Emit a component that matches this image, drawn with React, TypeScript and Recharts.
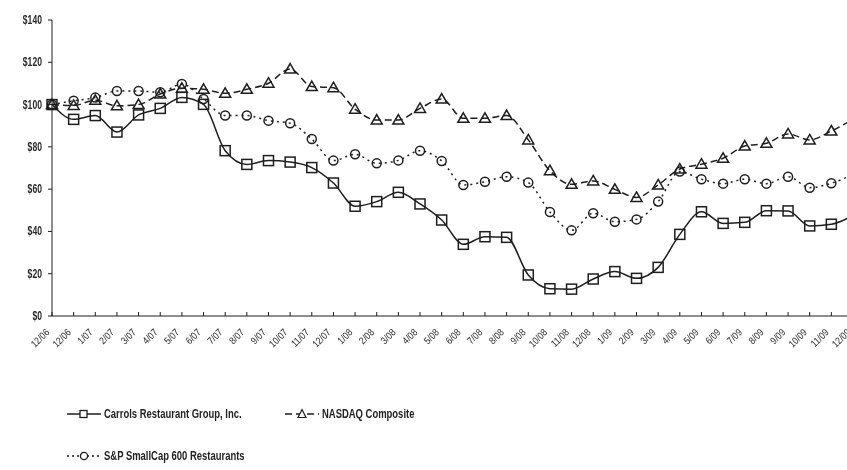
import { Legend, Line, LineChart, XAxis, YAxis } from "recharts";

const months = [
  "12/06", "12/06", "1/07", "2/07", "3/07", "4/07", "5/07", "6/07", "7/07", "8/07",
  "9/07", "10/07", "11/07", "12/07", "1/08", "2/08", "3/08", "4/08", "5/08", "6/08",
  "7/08", "8/08", "9/08", "10/08", "11/08", "12/08", "1/09", "2/09", "3/09", "4/09",
  "5/09", "6/09", "7/09", "8/09", "9/09", "10/09", "11/09", "12/09",
];

const carrols = [
  100, 93.0, 94.8, 87.0, 95.1, 98.2, 103.4, 100.1, 78.2, 71.7,
  73.5, 72.8, 70.2, 62.9, 51.9, 54.1, 58.5, 53.0, 45.4, 33.9,
  37.5, 37.2, 19.4, 12.9, 12.7, 17.5, 21.0, 17.8, 23.0, 38.6,
  49.3, 43.8, 44.3, 49.8, 49.7, 42.6, 43.4, 47.5,
];

const nasdaq = [
  100, 99.6, 102.0, 99.4, 100.0, 105.0, 107.7, 107.2, 105.3, 107.2,
  110.1, 116.8, 108.5, 108.0, 97.8, 92.7, 92.7, 98.2, 102.6, 93.5,
  93.5, 94.8, 83.3, 68.7, 62.3, 63.9, 59.9, 56.1, 62.0, 69.5,
  71.8, 74.6, 80.4, 81.7, 86.1, 83.3, 87.5, 93.0,
];

const smallCap = [
  100, 101.8, 103.3, 106.4, 106.4, 105.8, 109.7, 102.6, 94.8, 94.8,
  92.4, 91.2, 83.7, 73.5, 76.5, 72.2, 73.6, 78.2, 73.3, 62.0,
  63.5, 65.9, 63.1, 49.2, 40.5, 48.6, 44.6, 45.7, 54.1, 68.3,
  64.7, 62.6, 64.7, 62.6, 65.9, 60.7, 62.8, 67.0,
];

const yTicks = [0, 20, 40, 60, 80, 100, 120, 140];

const rows = months.map((m, i) => ({
  key: i,
  month: m,
  carrols: carrols[i],
  nasdaq: nasdaq[i],
  smallCap: smallCap[i],
}));

const INK = "#1e1e1e";
const FONT = "'Liberation Sans', Arial, sans-serif";

const squareDot = (p: any) => (
  <rect key={`sq-${p.index}`} x={p.cx - 5} y={p.cy - 5} width={10} height={10}
    fill="none" stroke={INK} strokeWidth={1.5} />
);

const triangleDot = (p: any) => (
  <path key={`tr-${p.index}`}
    d={`M${p.cx},${p.cy - 5.5} L${p.cx + 5.5},${p.cy + 4} L${p.cx - 5.5},${p.cy + 4} Z`}
    fill="none" stroke={INK} strokeWidth={1.5} />
);

const circleDot = (p: any) => (
  <circle key={`ci-${p.index}`} cx={p.cx} cy={p.cy} r={4.5}
    fill="none" stroke={INK} strokeWidth={1.5} />
);

// x labels: small tick pointing up into the plot, label rotated 45deg
function MonthTick(props: any) {
  const { x, y, payload } = props;
  return (
    <g>
      <line x1={x} y1={y - 4} x2={x} y2={y} stroke={INK} strokeWidth={1} />
      <text
        transform={`translate(${x - 2},${y + 17}) rotate(-45) scale(0.85,1)`}
        textAnchor="end"
        fontSize={10}
        fontFamily={FONT}
        fill="#2a2a2a"
      >
        {months[payload.value]}
      </text>
    </g>
  );
}

// condensed bold dollar labels
function DollarTick(props: any) {
  const { x, y, payload } = props;
  return (
    <text
      transform={`translate(${x},${y}) scale(0.72,1)`}
      textAnchor="end"
      dy={4}
      fontSize={12}
      fontWeight={700}
      fontFamily={FONT}
      fill="#2a2a2a"
    >
      {`$${payload.value}`}
    </text>
  );
}

const legendItems = [
  { name: "Carrols Restaurant Group, Inc.", dash: undefined, marker: "square", left: 67, top: 5 },
  { name: "NASDAQ Composite", dash: "7 4", marker: "triangle", left: 285, top: 5 },
  { name: "S&P SmallCap 600 Restaurants", dash: "2 3", marker: "circle", left: 67, top: 47 },
];

function LegendIcon({ dash, marker }: { dash?: string; marker: string }) {
  return (
    <svg width={34} height={12} style={{ display: "block" }}>
      <line x1={0} y1={6} x2={34} y2={6} stroke={INK} strokeWidth={1.5} strokeDasharray={dash} />
      {marker === "square" && <rect x={13} y={2.5} width={7} height={7} fill="#fff" stroke={INK} strokeWidth={1.3} />}
      {marker === "triangle" && <path d="M17,1.5 L21,9.5 L13,9.5 Z" fill="#fff" stroke={INK} strokeWidth={1.2} />}
      {marker === "circle" && <circle cx={17} cy={6} r={3.6} fill="#fff" stroke={INK} strokeWidth={1.3} />}
    </svg>
  );
}

function ChartLegend() {
  return (
    <div style={{ position: "relative", width: 847, height: 70 }}>
      {legendItems.map((it) => (
        <div key={it.name} style={{ position: "absolute", left: it.left, top: it.top, display: "flex", alignItems: "center", gap: 3 }}>
          <LegendIcon dash={it.dash} marker={it.marker} />
          <span style={{
            fontFamily: FONT, fontWeight: 700, fontSize: 13.5, color: "#222", whiteSpace: "nowrap",
            display: "inline-block", transform: "scaleX(0.7)", transformOrigin: "left center",
          }}>
            {it.name}
          </span>
        </div>
      ))}
    </div>
  );
}

export default function App() {
  return (
    <div style={{
      position: "absolute", left: 0, top: 0, width: 847, height: 470,
      overflow: "hidden", background: "#fff", filter: "grayscale(1)",
    }}>
      <LineChart width={860} height={470} data={rows} margin={{ top: 20, right: 7, bottom: 114, left: 2 }}>
        <XAxis
          dataKey="key"
          type="category"
          interval={0}
          tickSize={0}
          tickMargin={0}
          tick={<MonthTick />}
          axisLine={{ stroke: INK, strokeWidth: 1 }}
          height={40}
        />
        <YAxis
          domain={[0, 140]}
          ticks={yTicks}
          width={50}
          tickSize={4}
          tickMargin={6}
          tickLine={{ stroke: INK }}
          axisLine={{ stroke: INK, strokeWidth: 1 }}
          tick={<DollarTick />}
        />
        <Legend
          layout="horizontal"
          verticalAlign="middle"
          align="center"
          wrapperStyle={{ top: 401, left: 0 }}
          content={() => <ChartLegend />}
        />
        <Line type="monotone" dataKey="smallCap" name="S&P SmallCap 600 Restaurants" stroke={INK}
          strokeWidth={1.5} strokeDasharray="2 4" dot={circleDot} activeDot={false} isAnimationActive={false} />
        <Line type="monotone" dataKey="nasdaq" name="NASDAQ Composite" stroke={INK}
          strokeWidth={1.5} strokeDasharray="7 4" dot={triangleDot} activeDot={false} isAnimationActive={false} />
        <Line type="monotone" dataKey="carrols" name="Carrols Restaurant Group, Inc." stroke={INK}
          strokeWidth={1.5} dot={squareDot} activeDot={false} isAnimationActive={false} />
      </LineChart>
    </div>
  );
}
